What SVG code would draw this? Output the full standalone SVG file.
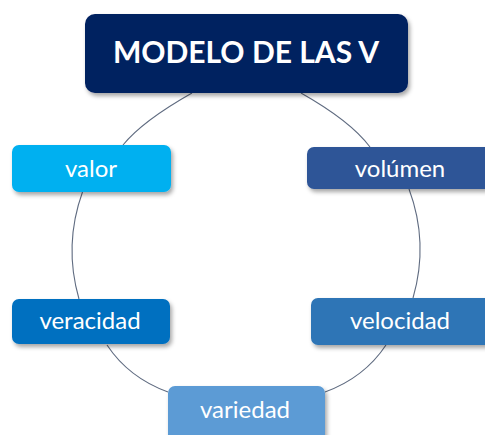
<svg xmlns="http://www.w3.org/2000/svg" width="485" height="435" viewBox="0 0 485 435">
<defs>
<filter id="sh" x="-10%" y="-20%" width="130%" height="150%">
<feDropShadow dx="2" dy="3" stdDeviation="2" flood-color="#000" flood-opacity="0.35"/>
</filter>
</defs>
<style>
.lbl{font-family:Lato,"Open Sans","Liberation Sans",sans-serif;fill:#fff;text-anchor:middle;font-size:24px}
.ttl{font-family:Lato,"Open Sans","Liberation Sans",sans-serif;fill:#fff;text-anchor:middle;font-size:30px;font-weight:bold}
.c{fill:none;stroke:#5f6b80;stroke-width:1.1}
</style>
<rect width="485" height="435" fill="#fff"/>
<g id="connectors">
<path class="c" d="M123 145 Q142.5 121 192 93"/>
<path class="c" d="M301 93 Q350.5 121 370 147"/>
<path class="c" d="M82.5 192 A174 174 0 0 0 79 299"/>
<path class="c" d="M409 189 A174 174 0 0 1 413 298"/>
<path class="c" d="M107 345 Q128.7 377.7 168 392"/>
<path class="c" d="M386 345 Q364.3 377.7 325 392"/>
</g>
<g id="title">
<rect x="85" y="14" width="323" height="79" rx="10" fill="#002060" filter="url(#sh)"/>
<text class="ttl" x="246" y="63">MODELO DE LAS V</text>
</g>
<g id="valor">
<rect x="12" y="145" width="159" height="47" rx="7" fill="#00B0F0" filter="url(#sh)"/>
<text class="lbl" x="91" y="177">valor</text>
</g>
<g id="volumen">
<rect x="307" y="147" width="185" height="42" rx="7" fill="#2F5597" filter="url(#sh)"/>
<text class="lbl" x="400" y="177">volúmen</text>
</g>
<g id="veracidad">
<rect x="12" y="299" width="158" height="45" rx="7" fill="#0070C0" filter="url(#sh)"/>
<text class="lbl" x="90" y="329">veracidad</text>
</g>
<g id="velocidad">
<rect x="311" y="298" width="181" height="47" rx="7" fill="#2E75B6" filter="url(#sh)"/>
<text class="lbl" x="400" y="329">velocidad</text>
</g>
<g id="variedad">
<rect x="168" y="386" width="157" height="56" rx="7" fill="#5B9BD5" filter="url(#sh)"/>
<text class="lbl" x="245" y="418">variedad</text>
</g>
</svg>
